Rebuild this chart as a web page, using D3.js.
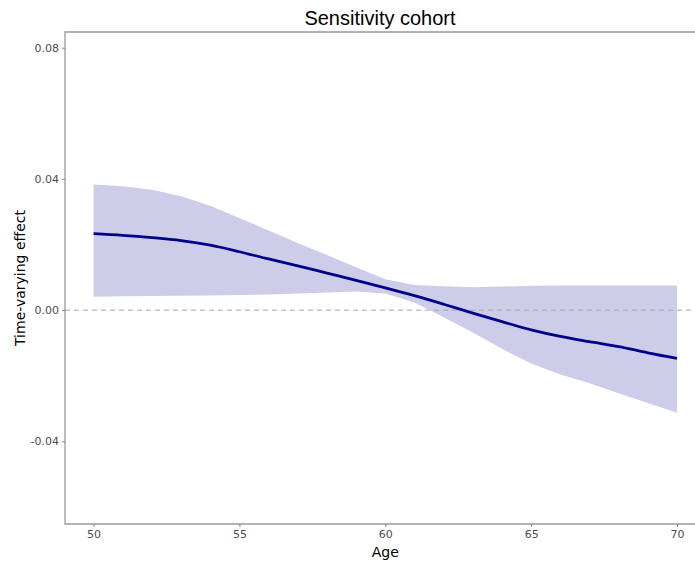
<!DOCTYPE html>
<html lang="en">
<head>
  <meta charset="UTF-8">
  <title>Sensitivity cohort</title>
  <script src="https://d3js.org/d3.v7.min.js"></script>
  <style>
    body { margin: 0; background: #fff; overflow: hidden; }
    svg { display: block; }
    .tick text { font-family: "DejaVu Sans", sans-serif; font-size: 11px; fill: #4d4d4d; }
    .tick line { stroke: #888; }
  </style>
</head>
<body>
  <svg id="chart" width="695" height="565"></svg>

  <script>
    // Data
    const ages = [50, 51, 52, 53, 54, 55, 56, 57, 58, 59, 60, 61, 62, 63, 64, 65, 66, 67, 68, 69, 70];
    const effect = [0.0233, 0.0228, 0.0221, 0.0212, 0.0198, 0.0178, 0.0156, 0.0135, 0.0113, 0.0091, 0.0068,
      0.0044, 0.0018, -0.0009, -0.0035, -0.0060, -0.0080, -0.0096, -0.0111, -0.0130, -0.0147];
    const upper = [0.0383, 0.0378, 0.0367, 0.0347, 0.0318, 0.0281, 0.0243, 0.0205, 0.0168, 0.0131, 0.0094,
      0.0077, 0.0073, 0.0070, 0.0072, 0.0074, 0.0075, 0.0075, 0.0075, 0.0075, 0.0075];
    const lower = [0.0041, 0.0042, 0.0043, 0.0044, 0.0045, 0.0046, 0.0048, 0.0051, 0.0054, 0.0057, 0.0051,
      0.0023, -0.0022, -0.0068, -0.0118, -0.0163, -0.0196, -0.0223, -0.0253, -0.0283, -0.0313];
    const xTicks = [50, 55, 60, 65, 70];
    const yTicks = [-0.04, 0, 0.04, 0.08];

    const rows = ages.map((a, i) => ({ age: a, est: effect[i], lo: lower[i], hi: upper[i] }));

    const panelLeft = 65, panelRight = 705, panelTop = 32, panelBottom = 524;

    const x = d3.scaleLinear().domain([49.02, 70.96]).range([panelLeft, panelRight]);
    const y = d3.scaleLinear().domain([-0.0652, 0.0848]).range([panelBottom, panelTop]);

    const svg = d3.select("#chart");

    // confidence band
    svg.append("path")
      .datum(rows)
      .attr("fill", "#cdcde9")
      .attr("d", d3.area()
        .x(d => x(d.age))
        .y0(d => y(d.lo))
        .y1(d => y(d.hi)));

    // zero reference line
    svg.append("line")
      .attr("x1", panelLeft).attr("x2", panelRight)
      .attr("y1", y(0)).attr("y2", y(0))
      .attr("stroke", "#a6a6a6")
      .attr("stroke-width", 1)
      .attr("stroke-dasharray", "5,4");

    // estimate
    svg.append("path")
      .datum(rows)
      .attr("fill", "none")
      .attr("stroke", "#00008b")
      .attr("stroke-width", 2.8)
      .attr("d", d3.line()
        .curve(d3.curveMonotoneX)
        .x(d => x(d.age))
        .y(d => y(d.est)));

    // panel border (right side falls outside the window)
    svg.append("path")
      .attr("d", `M${panelRight},${panelTop}H${panelLeft}V${panelBottom}H${panelRight}`)
      .attr("fill", "none")
      .attr("stroke", "#999")
      .attr("stroke-width", 1.3);

    // axes
    const xAxis = svg.append("g")
      .attr("transform", `translate(0,${panelBottom})`)
      .call(d3.axisBottom(x).tickValues(xTicks).tickSize(3).tickPadding(3).tickFormat(d3.format("d")));
    xAxis.select(".domain").remove();

    const fmtY = d3.format(".2f");
    const yAxis = svg.append("g")
      .attr("transform", `translate(${panelLeft},0)`)
      .call(d3.axisLeft(y).tickValues(yTicks).tickSize(3).tickPadding(3)
        .tickFormat(d => fmtY(d).replace("\u2212", "-")));
    yAxis.select(".domain").remove();

    // titles
    svg.append("text")
      .attr("x", (panelLeft + 695) / 2)
      .attr("y", 25)
      .attr("text-anchor", "middle")
      .style("font-family", "'Liberation Sans', Arial, sans-serif")
      .style("font-size", "20px")
      .text("Sensitivity cohort");

    svg.append("text")
      .attr("x", x(60))
      .attr("y", 557)
      .attr("text-anchor", "middle")
      .style("font-family", "'DejaVu Sans', sans-serif")
      .style("font-size", "14px")
      .text("Age");

    svg.append("text")
      .attr("transform", `translate(25,${(panelTop + panelBottom) / 2}) rotate(-90)`)
      .attr("text-anchor", "middle")
      .style("font-family", "'DejaVu Sans', sans-serif")
      .style("font-size", "14px")
      .text("Time-varying effect");
  </script>
</body>
</html>
